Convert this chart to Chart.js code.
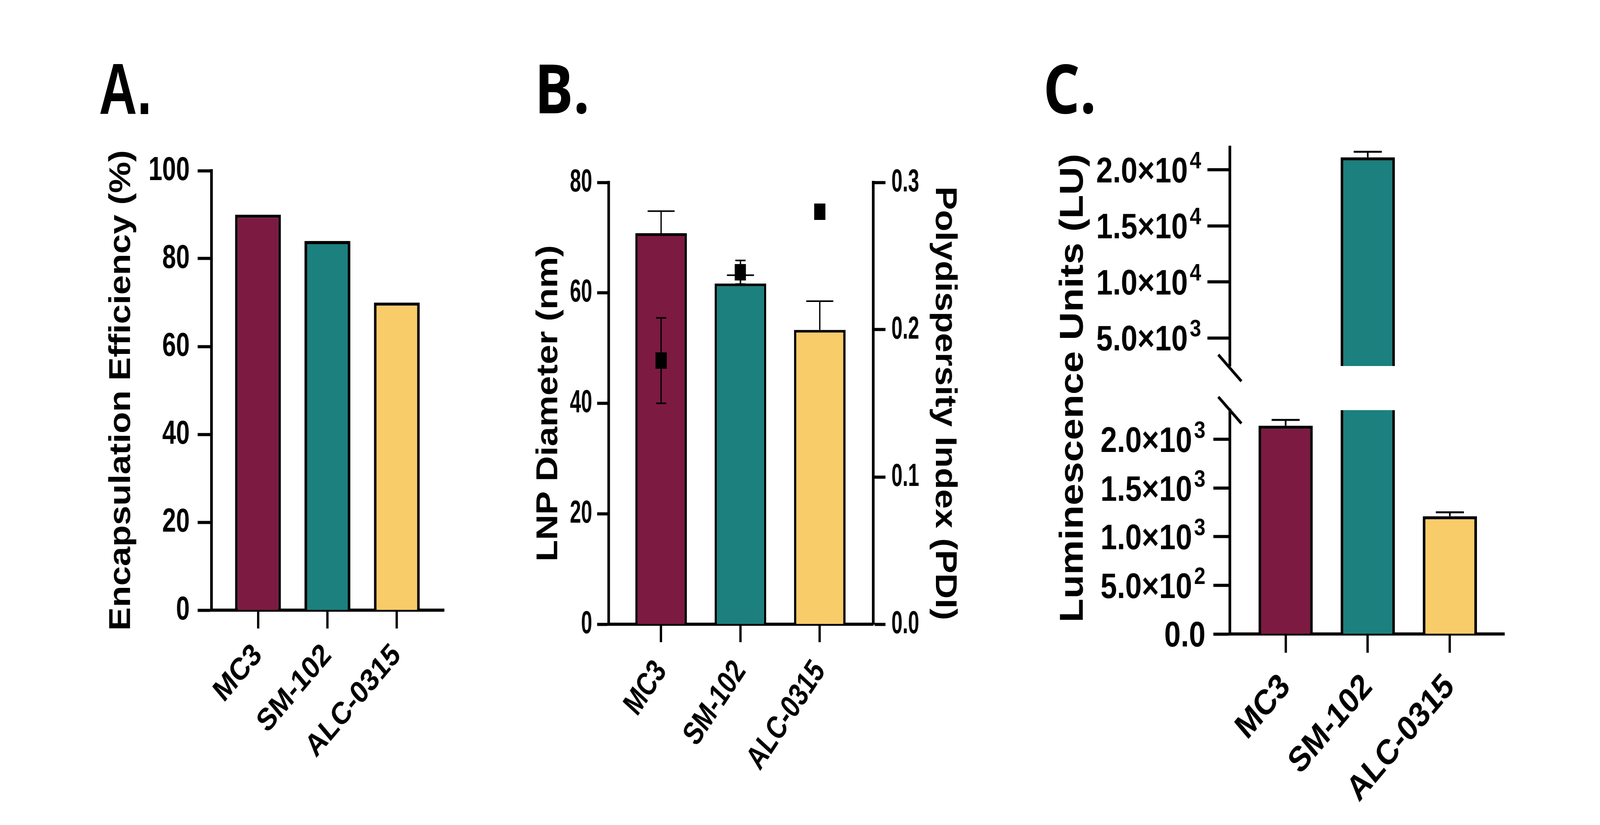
<!DOCTYPE html>
<html>
<head>
<meta charset="utf-8">
<script src="https://cdn.jsdelivr.net/npm/chart.js@4.4.1/dist/chart.umd.min.js"></script>
<style>
  html, body { margin: 0; padding: 0; background: #fff; overflow: hidden; }
  #page { position: absolute; left: 0; top: 0; width: 4850px; height: 2112px; background: #fff; transform-origin: 0 0; }
  canvas { position: absolute; }
  .tag { position: absolute; line-height: 1; color: #000; font-weight: bold; white-space: nowrap; transform-origin: 0 0; }
</style>
</head>
<body>
<div id="page">
  <div class="tag" style="left:300px;top:135px;font-size:186px;font-family:'Liberation Sans',Arial,sans-serif;transform:scaleX(0.86);">A.</div>
  <div class="tag" style="left:1620px;top:135px;font-size:175px;font-family:'Open Sans','Noto Sans',sans-serif;">B.</div>
  <div class="tag" style="left:3162px;top:135px;font-size:175px;font-family:'Open Sans','Noto Sans',sans-serif;">C.</div>

  <canvas id="chartA" width="1150" height="1720" style="left:250px;top:380px"></canvas>
  <canvas id="chartB" width="1550" height="1700" style="left:1500px;top:400px"></canvas>
  <canvas id="chartC" width="1450" height="1783" style="left:3150px;top:317px"></canvas>
</div>

<script>
// the window may be narrower than 4850px: stretch the 4850x2112 layout over it
const page = document.getElementById('page');
page.style.transform = 'scale(' + (window.innerWidth / 4850) + ',' + (window.innerHeight / 2112) + ')';

// ---- data ----
const lipids = ['MC3', 'SM-102', 'ALC-0315'];
const barColors = ['#7D1A41', '#1B807E', '#F9CC6A'];

// A: encapsulation efficiency (%)
const encapEff = [90, 84, 70];
const effTicks = [0, 20, 40, 60, 80, 100];

// B: LNP diameter (nm, bars) and PDI (squares, right axis)
const diameterNm = [70.8, 61.7, 53.3];
const diameterSd = [4.0, 1.5, 5.2];
const pdi = [0.179, 0.239, 0.280];
const pdiSd = [0.029, 0.008, 0];
const diamTicks = [0, 20, 40, 60, 80];
const pdiTicks = [0, 0.1, 0.2, 0.3];

// C: luminescence (LU), broken axis
const luminescence = [2140, 21100, 1210];
const luminescenceSd = [60, 500, 40];
const lumTicksHigh = [5000, 10000, 15000, 20000];
const lumLabelsHigh = ['5.0×10³', '1.0×10⁴', '1.5×10⁴', '2.0×10⁴'];
const lumTicksLow = [0, 500, 1000, 1500, 2000];
const lumLabelsLow = ['0.0', '5.0×10²', '1.0×10³', '1.5×10³', '2.0×10³'];

// ---- shared bits ----
const SANS = "'Liberation Sans', Arial, sans-serif";
const SUPER = '⁰¹²³⁴⁵⁶⁷⁸⁹';
Chart.defaults.color = '#000';
Chart.defaults.font.family = SANS;

const toPoints = vals => vals.map((v, i) => ({ x: i, y: v }));
const setTicks = vals => scale => { scale.ticks = vals.map(v => ({ value: v })); };
const fixWidth = w => scale => { scale.width = w; };
const fixHeight = h => scale => { scale.height = h; };

// error bars drawn from each dataset's own scales
const errorBars = {
  id: 'errorBars',
  afterDatasetsDraw(chart) {
    const ctx = chart.ctx;
    chart.data.datasets.forEach((ds, i) => {
      if (!ds.errors) return;
      const meta = chart.getDatasetMeta(i);
      const xs = meta.xScale, ys = meta.yScale;
      ctx.save();
      ctx.beginPath();
      ctx.rect(xs.left, ys.top, xs.right - xs.left, ys.bottom - ys.top);
      ctx.clip();
      ctx.strokeStyle = '#000';
      ctx.lineWidth = ds.errorLineWidth;
      ds.data.forEach((pt, j) => {
        const e = ds.errors[j];
        if (!e) return;
        const x = xs.getPixelForValue(pt.x);
        const yLo = ys.getPixelForValue(ds.errorBoth ? pt.y - e : pt.y);
        const yHi = ys.getPixelForValue(pt.y + e);
        const half = ds.capWidth / 2;
        ctx.beginPath();
        ctx.moveTo(x, yLo); ctx.lineTo(x, yHi);
        ctx.moveTo(x - half, yHi); ctx.lineTo(x + half, yHi);
        if (ds.errorBoth) { ctx.moveTo(x - half, yLo); ctx.lineTo(x + half, yLo); }
        ctx.stroke();
      });
      ctx.restore();
    });
  }
};

// condensed tick labels (the figure uses a narrow face we don't have)
const narrowTicks = {
  id: 'narrowTicks',
  afterDraw(chart, args, opts) {
    const ctx = chart.ctx;
    Object.keys(opts.axes || {}).forEach(id => {
      const o = opts.axes[id];
      const scale = chart.scales[id];
      const tl = scale.options.grid.tickLength;
      ctx.save();
      ctx.fillStyle = '#000';
      ctx.font = 'bold ' + o.size + 'px ' + SANS;
      ctx.textBaseline = 'middle';
      scale.ticks.forEach(t => {
        const p = scale.getPixelForValue(t.value);
        ctx.save();
        if (scale.isHorizontal()) {
          ctx.translate(p, scale.top + tl + o.padding);
          ctx.rotate(-o.rotation * Math.PI / 180);
          ctx.textAlign = 'right';
        } else if (scale.position === 'left') {
          ctx.translate(scale.right - tl - o.padding, p);
          ctx.textAlign = 'right';
        } else {
          ctx.translate(scale.left + tl + o.padding, p);
          ctx.textAlign = 'left';
        }
        ctx.scale(o.squeeze, 1);
        ctx.fillText(t.label, 0, 0);
        ctx.restore();
      });
      ctx.restore();
    });
  }
};

// "m.m×10ⁿ" labels with a proper raised exponent
const sciTicks = {
  id: 'sciTicks',
  afterDraw(chart, args, opts) {
    const ctx = chart.ctx;
    Object.keys(opts.axes || {}).forEach(id => {
      const o = opts.axes[id];
      const scale = chart.scales[id];
      const xRight = scale.right - scale.options.grid.tickLength - o.padding;
      const baseFont = 'bold ' + o.size + 'px ' + SANS;
      const expFont = 'bold ' + o.expSize + 'px ' + SANS;
      ctx.save();
      ctx.fillStyle = '#000';
      ctx.textAlign = 'left';
      ctx.textBaseline = 'alphabetic';
      scale.ticks.forEach(t => {
        const y = scale.getPixelForValue(t.value) + o.size * 0.358;
        const m = t.label.match(/^(.*?)([⁰¹²³⁴⁵⁶⁷⁸⁹]*)$/);
        const base = m[1];
        const exp = m[2].split('').map(c => SUPER.indexOf(c)).join('');
        ctx.font = baseFont;
        const wb = ctx.measureText(base).width;
        ctx.font = expFont;
        const we = exp ? ctx.measureText(exp).width + o.gap : 0;
        const x0 = xRight - wb - we;
        ctx.font = baseFont;
        ctx.fillText(base, x0, y);
        if (exp) {
          ctx.font = expFont;
          ctx.fillText(exp, x0 + wb + o.gap, y - o.raise);
        }
      });
      ctx.restore();
    });
  }
};

function xAxis(min, max, height, tickLen, labels) {
  return {
    type: 'linear', min: min, max: max, offset: false,
    afterBuildTicks: setTicks(lipids.map((_, i) => i)),
    afterFit: fixHeight(height),
    grid: { offset: false, drawOnChartArea: false, tickLength: tickLen, tickWidth: 7, tickColor: '#000' },
    border: { display: true, color: '#000', width: 8 },
    ticks: Object.assign({ autoSkip: false, callback: (v, i) => lipids[i] }, labels)
  };
}

// ---- A ----
new Chart(document.getElementById('chartA'), {
  type: 'bar',
  data: {
    datasets: [{
      data: toPoints(encapEff),
      backgroundColor: barColors, borderColor: '#000', borderWidth: 8,
      barPercentage: 0.66, categoryPercentage: 1
    }]
  },
  options: {
    responsive: false, animation: false, devicePixelRatio: 1,
    layout: { padding: { top: 57, right: 54, bottom: 40, left: 0 } },
    plugins: {
      legend: { display: false }, tooltip: { enabled: false },
      narrowTicks: { axes: { y: { size: 86, squeeze: 0.87, padding: 24 } } }
    },
    scales: {
      x: xAxis(-0.67, 2.68, 498, 47, {
        minRotation: 45, maxRotation: 45, padding: 22,
        font: { size: 80, weight: 'bold', family: SANS }
      }),
      y: {
        min: 0, max: 100,
        afterBuildTicks: setTicks(effTicks),
        afterFit: fixWidth(391),
        grid: { drawOnChartArea: false, tickLength: 42, tickWidth: 8, tickColor: '#000' },
        border: { display: true, color: '#000', width: 8 },
        ticks: { display: false, autoSkip: false },
        title: {
          display: true, text: 'Encapsulation Efficiency (%)',
          font: { size: 90, weight: 'bold', family: SANS }, padding: { top: 65, bottom: 0 }
        }
      }
    }
  },
  plugins: [narrowTicks]
});

// ---- B ----
const pdiMark = document.createElement('canvas');
pdiMark.width = 34; pdiMark.height = 42;
pdiMark.getContext('2d').fillRect(0, 0, 34, 42);

new Chart(document.getElementById('chartB'), {
  type: 'bar',
  data: {
    datasets: [{
      type: 'line',
      data: toPoints(pdi),
      yAxisID: 'y1', order: 1,
      showLine: false, pointStyle: pdiMark, pointRadius: 17,
      errors: pdiSd, errorBoth: true, capWidth: 31, errorLineWidth: 4
    }, {
      data: toPoints(diameterNm),
      yAxisID: 'y', order: 2,
      backgroundColor: barColors, borderColor: '#000', borderWidth: 7,
      barPercentage: 0.65, categoryPercentage: 1,
      errors: diameterSd, capWidth: 82, errorLineWidth: 4
    }]
  },
  options: {
    responsive: false, animation: false, devicePixelRatio: 1,
    layout: { padding: { top: 67, right: 0, bottom: 100, left: 0 } },
    plugins: {
      legend: { display: false }, tooltip: { enabled: false },
      narrowTicks: {
        axes: {
          x: { size: 86, squeeze: 0.82, padding: 60, rotation: 52 },
          y: { size: 82, squeeze: 0.74, padding: 15 },
          y1: { size: 82, squeeze: 0.74, padding: 18 }
        }
      }
    },
    scales: {
      x: xAxis(-0.661, 2.674, 402, 46, { display: false }),
      y: {
        position: 'left', min: 0, max: 80,
        afterBuildTicks: setTicks(diamTicks),
        afterFit: fixWidth(345),
        grid: { drawOnChartArea: false, tickLength: 35, tickWidth: 8, tickColor: '#000' },
        border: { display: true, color: '#000', width: 8 },
        ticks: { display: false, autoSkip: false },
        title: {
          display: true, text: 'LNP Diameter (nm)',
          font: { size: 90, weight: 'bold', family: SANS }, padding: { top: 110, bottom: 0 }
        }
      },
      y1: {
        position: 'right', min: 0, max: 0.3,
        afterBuildTicks: setTicks(pdiTicks),
        afterFit: fixWidth(403),
        grid: { drawOnChartArea: false, tickLength: 37, tickWidth: 8, tickColor: '#000' },
        border: { display: true, color: '#000', width: 8 },
        ticks: { display: false, autoSkip: false, callback: v => v.toFixed(1) },
        title: {
          display: true, text: 'Polydispersity Index (PDI)',
          font: { size: 90, weight: 'bold', family: SANS }, padding: { top: 134, bottom: 0 }
        }
      }
    }
  },
  plugins: [errorBars, narrowTicks]
});

// ---- C ----
const axisBreak = {
  id: 'axisBreak',
  afterDraw(chart) {
    const up = chart.scales.yHigh, lo = chart.scales.yLow;
    const ctx = chart.ctx;
    const x = up.right;
    ctx.save();
    ctx.strokeStyle = '#000';
    ctx.lineWidth = 8;
    [up.bottom + 5, lo.top].forEach(y => {
      ctx.beginPath();
      ctx.moveTo(x - 35, y - 34);
      ctx.lineTo(x + 35, y + 34);
      ctx.stroke();
    });
    ctx.restore();
  }
};

const lumBar = axisId => ({
  data: toPoints(luminescence),
  yAxisID: axisId, grouped: false, clip: 0,
  backgroundColor: barColors, borderColor: '#000', borderWidth: 8,
  barPercentage: 0.66, categoryPercentage: 1,
  errors: luminescenceSd, capWidth: 85, errorLineWidth: 5
});

new Chart(document.getElementById('chartC'), {
  type: 'bar',
  data: { datasets: [lumBar('yHigh'), lumBar('yLow')] },
  options: {
    responsive: false, animation: false, devicePixelRatio: 1,
    layout: { padding: { top: 60, right: 40, bottom: 20, left: 0 } },
    plugins: {
      legend: { display: false }, tooltip: { enabled: false },
      sciTicks: {
        axes: {
          yHigh: { size: 90, expSize: 62, gap: 6, raise: 36, padding: 19 },
          yLow: { size: 90, expSize: 62, gap: 6, raise: 36, padding: 24 }
        }
      }
    },
    scales: {
      x: xAxis(-0.679, 2.663, 457, 48, {
        minRotation: 45, maxRotation: 45, padding: 35,
        font: { size: 90, weight: 'bold', family: SANS }
      }),
      yHigh: {
        position: 'left', stack: 'lum', stackWeight: 560, weight: 3,
        min: 2500, max: 22000,
        afterBuildTicks: setTicks(lumTicksHigh),
        afterFit: fixWidth(578),
        grid: { drawOnChartArea: false, tickLength: 68, tickWidth: 8, tickColor: '#000' },
        border: { display: true, color: '#000', width: 8 },
        ticks: { display: false, autoSkip: false, callback: (v, i) => lumLabelsHigh[i] }
      },
      yGap: {
        position: 'left', stack: 'lum', stackWeight: 113, weight: 2,
        afterFit: fixWidth(578),
        grid: { display: false },
        border: { display: false },
        ticks: { display: false },
        title: {
          display: true, text: 'Luminescence Units (LU)',
          font: { size: 100, weight: 'bold', family: SANS }, padding: { top: 44, bottom: 0 }
        }
      },
      yLow: {
        position: 'left', stack: 'lum', stackWeight: 573, weight: 1,
        min: 0, max: 2300,
        afterBuildTicks: setTicks(lumTicksLow),
        afterFit: fixWidth(578),
        grid: { drawOnChartArea: false, tickLength: 50, tickWidth: 8, tickColor: '#000' },
        border: { display: true, color: '#000', width: 8 },
        ticks: { display: false, autoSkip: false, callback: (v, i) => lumLabelsLow[i] }
      }
    }
  },
  plugins: [errorBars, axisBreak, sciTicks]
});
</script>
</body>
</html>
